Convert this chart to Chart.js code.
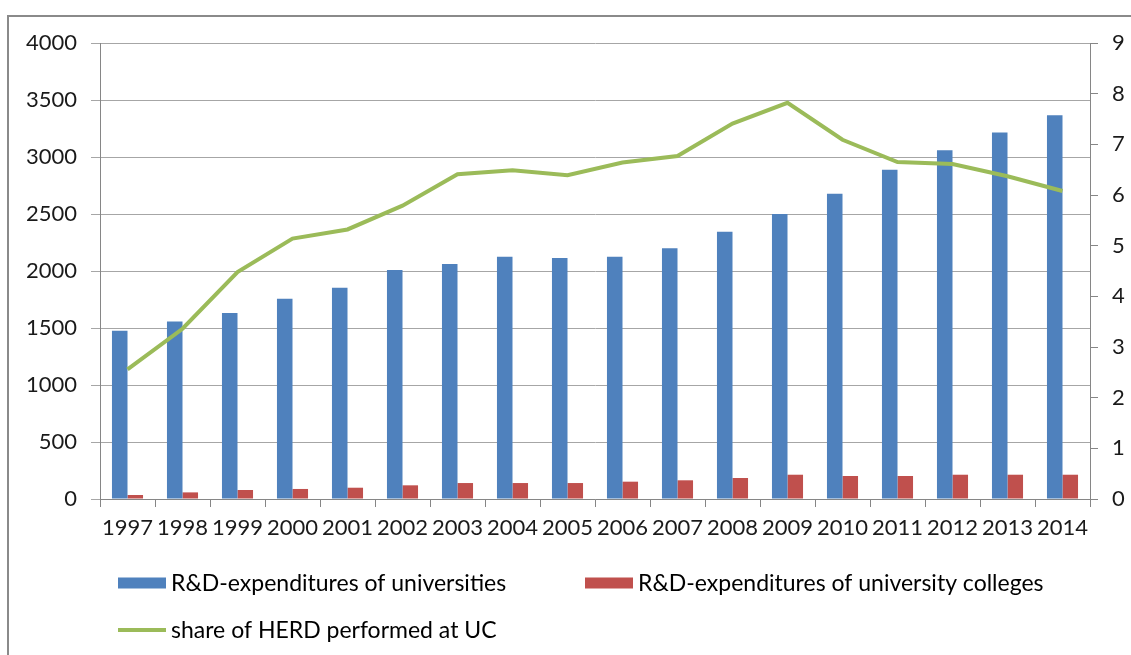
<!DOCTYPE html>
<html>
<head>
<meta charset="utf-8">
<title>HERD universities and university colleges</title>
<script src="https://cdn.jsdelivr.net/npm/chart.js@4/dist/chart.umd.min.js"></script>
<style>
  html, body { margin: 0; padding: 0; background: #fff; }
  #wrap { position: relative; width: 1131px; height: 655px; overflow: hidden; }
  #frame {
    position: absolute; left: 7px; top: 15px; right: -20px; bottom: -20px;
    border: 2px solid #8a8a8a; pointer-events: none;
  }
</style>
</head>
<body>
<div id="wrap">
  <canvas id="myChart" width="1131" height="655"></canvas>
  <div id="frame"></div>
</div>
<script>
// years on the category axis
var years = ['1997', '1998', '1999', '2000', '2001', '2002', '2003', '2004', '2005',
             '2006', '2007', '2008', '2009', '2010', '2011', '2012', '2013', '2014'];

// R&D expenditures (left axis)
var universities = [1475, 1558, 1632, 1757, 1854, 2009, 2061, 2126, 2114,
                    2126, 2199, 2345, 2500, 2678, 2889, 3059, 3216, 3366];
var colleges = [35, 58, 79, 88, 99, 120, 140, 140, 140,
                152, 164, 184, 213, 202, 202, 213, 213, 213];

// share of HERD at university colleges, percent (right axis)
var shareUC = [2.56, 3.36, 4.48, 5.14, 5.32, 5.79, 6.41, 6.49, 6.39,
               6.64, 6.77, 7.41, 7.82, 7.09, 6.65, 6.61, 6.37, 6.08];

var labelFont = { family: 'Lato', size: 22 };
var gridColor = '#a6a6a6';
var axisColor = '#868686';

// plain numbers, no thousands separator
function plainTick(value) { return String(value); }

// two-column legend under the plot, drawn by hand
var gridLegend = {
  id: 'gridLegend',
  afterDraw: function(chart, args, opts) {
    var ctx = chart.ctx;
    ctx.save();
    ctx.font = opts.font;
    ctx.textBaseline = 'middle';
    chart.data.datasets.forEach(function(ds, i) {
      var x = opts.left + (i % 2) * opts.colWidth;
      var y = opts.top + Math.floor(i / 2) * opts.rowHeight;
      if (ds.type === 'line') {
        ctx.strokeStyle = ds.borderColor;
        ctx.lineWidth = ds.borderWidth;
        ctx.beginPath();
        ctx.moveTo(x, y);
        ctx.lineTo(x + opts.boxWidth, y);
        ctx.stroke();
      } else {
        ctx.fillStyle = ds.backgroundColor;
        ctx.fillRect(x, y - opts.boxHeight / 2, opts.boxWidth, opts.boxHeight);
      }
      ctx.fillStyle = '#000';
      ctx.fillText(ds.label, x + opts.boxWidth + opts.gap, y + 1);
    });
    ctx.restore();
  }
};

var ctx = document.getElementById('myChart').getContext('2d');
var chart = new Chart(ctx, {
  type: 'bar',
  data: {
    labels: years,
    datasets: [
      {
        label: 'R&D-expenditures of universities',
        data: universities,
        backgroundColor: '#4f81bd',
        yAxisID: 'y',
        order: 1
      },
      {
        label: 'R&D-expenditures of university colleges',
        data: colleges,
        backgroundColor: '#c0504d',
        yAxisID: 'y',
        order: 1
      },
      {
        type: 'line',
        label: 'share of HERD performed at UC',
        data: shareUC,
        borderColor: '#9bbb59',
        backgroundColor: '#9bbb59',
        borderWidth: 4,
        pointRadius: 0,
        tension: 0,
        yAxisID: 'y1',
        order: 0
      }
    ]
  },
  options: {
    responsive: false,
    animation: false,
    devicePixelRatio: 1,
    categoryPercentage: 0.565,
    barPercentage: 1.0,
    layout: { padding: { top: 43, left: 0, right: 0, bottom: 0 } },
    plugins: {
      legend: { display: false },
      tooltip: { enabled: false },
      gridLegend: {
        font: '23px Lato',
        left: 118,
        top: 583,
        colWidth: 467,
        rowHeight: 47,
        boxWidth: 48,
        boxHeight: 11,
        gap: 5
      }
    },
    scales: {
      x: {
        offset: true,
        grid: {
          offset: true,
          drawOnChartArea: false,
          drawTicks: true,
          tickLength: 8,
          color: axisColor
        },
        border: { color: axisColor },
        ticks: { font: labelFont, color: '#1a1a1a', padding: 8, maxRotation: 0, autoSkip: false },
        afterFit: function(scale) { scale.height = 156; }
      },
      y: {
        position: 'left',
        min: 0,
        max: 4000,
        grid: { color: gridColor, tickLength: 9 },
        border: { color: axisColor },
        ticks: { stepSize: 500, font: labelFont, color: '#1a1a1a', padding: 14, callback: plainTick },
        afterFit: function(scale) { scale.width = 100; }
      },
      y1: {
        position: 'right',
        min: 0,
        max: 9,
        grid: { drawOnChartArea: false, color: axisColor, tickLength: 8 },
        border: { color: axisColor },
        ticks: { stepSize: 1, font: labelFont, color: '#1a1a1a', padding: 14, callback: plainTick },
        afterFit: function(scale) { scale.width = 41; }
      }
    }
  },
  plugins: [gridLegend]
});
</script>
</body>
</html>
